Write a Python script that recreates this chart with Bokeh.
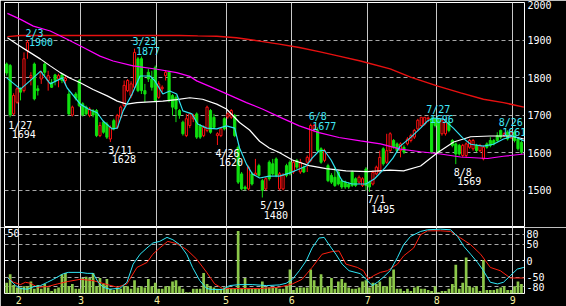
from bokeh.plotting import figure
from bokeh.layouts import column
from bokeh.models import Range1d, FixedTicker, Grid, ColumnDataSource
from bokeh.core.properties import value
from bokeh.embed import file_html
from bokeh.resources import INLINE

# ---------------- data ----------------
month_labels = ["2", "3", "4", "5", "6", "7", "8", "9"]
month_days = [4, 18, 22, 20, 19, 22, 20, 22, 3]   # trading days: late Jan, Feb..Aug, early Sep

opens = [
    1836,1832,1703,1734,1770,1765,1872,1800,1836,1770,1796,1836,1792,1787,1807,1796,1807,1792,1756,1700,1756,1792,
    1730,1721,1699,1712,1712,1645,1681,1676,1636,1685,1667,1694,1725,1765,1752,1774,1850,1850,1765,1814,1796,1827,
    1747,1770,1805,1814,1752,1747,1712,1681,1645,1672,1690,1703,1672,1645,1659,1712,1694,1645,1645,1690,
    1695,1694,1699,1614,1543,1508,1503,1543,1540,1565,1525,1503,1574,1570,1583,1503,1503,1565,1574,
    1548,1579,1548,1561,1574,1579,1663,1659,1610,1579,1565,1539,1534,1548,1525,1521,1516,1548,1530,1521,1512,1556,
    1521,1516,1543,1548,1610,1574,1605,1632,1623,1605,1614,1623,1632,1641,1663,1672,1676,1690,1690,1690,
    1685,1650,1650,1681,1632,1623,1619,1592,1592,1614,1610,1619,1605,1583,1623,1632,1632,1645,1659,1645,1654,1641,
    1654,1636,1627]
highs = [
    1840,1836,1758,1775,1774,1867,1900,1814,1840,1779,1818,1840,1818,1796,1810,1810,1810,1805,1765,1725,1761,1796,
    1734,1725,1721,1716,1716,1681,1685,1681,1672,1690,1703,1725,1792,1796,1790,1877,1855,1856,1783,1823,1818,1832,
    1790,1779,1820,1818,1756,1752,1716,1685,1703,1707,1703,1707,1676,1672,1725,1716,1703,1654,1667,1694,
    1707,1716,1703,1619,1548,1512,1565,1548,1583,1570,1530,1534,1579,1583,1587,1548,1545,1570,1579,
    1579,1583,1583,1565,1592,1677,1676,1667,1614,1610,1570,1545,1561,1552,1530,1525,1521,1552,1534,1539,1534,1561,
    1525,1552,1565,1605,1614,1650,1654,1636,1627,1627,1619,1641,1650,1663,1690,1694,1694,1696,1694,1692,
    1690,1690,1685,1685,1636,1627,1623,1623,1627,1636,1636,1623,1623,1619,1627,1641,1636,1654,1661,1654,1659,1659,
    1659,1641,1632]
lows = [
    1805,1694,1699,1730,1739,1760,1850,1779,1739,1752,1783,1805,1765,1772,1779,1774,1785,1779,1699,1696,1739,1721,
    1696,1699,1694,1694,1641,1641,1650,1636,1628,1659,1663,1690,1721,1761,1745,1770,1761,1756,1734,1788,1765,1734,
    1743,1761,1792,1734,1699,1681,1690,1645,1641,1665,1681,1636,1636,1641,1654,1650,1663,1620,1641,1659,
    1690,1690,1641,1516,1499,1499,1499,1512,1539,1534,1480,1499,1525,1539,1534,1499,1499,1534,1539,
    1543,1556,1543,1545,1548,1574,1654,1601,1570,1574,1521,1516,1508,1512,1503,1503,1503,1508,1508,1516,1508,1499,
    1495,1512,1539,1543,1565,1570,1601,1610,1601,1587,1596,1619,1627,1636,1659,1667,1672,1681,1597,1667,
    1596,1645,1645,1654,1614,1569,1592,1587,1587,1610,1605,1601,1601,1579,1610,1614,1619,1627,1636,1641,1632,1636,
    1627,1605,1596]
closes = [
    1812,1700,1752,1770,1761,1850,1894,1805,1743,1765,1814,1814,1805,1774,1792,1805,1792,1798,1703,1721,1745,1725,
    1700,1703,1716,1700,1645,1672,1654,1641,1667,1663,1699,1721,1779,1792,1783,1867,1765,1765,1756,1796,1774,1739,
    1783,1774,1814,1739,1721,1716,1699,1650,1690,1703,1699,1641,1641,1667,1721,1654,1667,1650,1663,1663,
    1703,1712,1645,1521,1503,1503,1561,1516,1545,1539,1499,1530,1530,1543,1539,1543,1539,1539,1543,
    1574,1561,1574,1548,1587,1672,1672,1605,1574,1605,1525,1521,1512,1516,1508,1508,1508,1512,1512,1534,1530,1512,
    1508,1547,1561,1587,1570,1605,1650,1614,1605,1623,1601,1636,1645,1659,1686,1694,1694,1692,1601,1672,
    1601,1685,1681,1659,1619,1596,1596,1619,1623,1632,1632,1605,1619,1614,1614,1619,1623,1632,1641,1650,1636,1654,
    1632,1610,1601]
volumes = [
    9,16,7,5,5,6,6,10,4,7,4,8,5,2,4,5,16,17,6,8,4,4,
    13,14,13,17,6,13,8,12,4,3,5,4,6,6,4,11,5,6,5,12,6,9,
    4,4,6,6,10,11,6,4,1,1,4,4,4,17,8,6,5,4,4,5,
    5,4,4,52,4,13,4,4,4,4,10,5,5,5,5,4,4,6,20,
    3,5,5,5,5,20,11,6,16,5,6,13,4,10,12,9,5,4,4,5,10,11,
    5,9,8,10,6,6,14,20,4,4,2,4,2,5,6,4,4,3,2,6,
    1,2,2,4,8,24,4,9,30,6,5,6,2,28,3,3,3,4,5,6,3,3,
    6,10,8]

ma5_x = [0,4,7.7,9.8,12.6,16.1,17.5,21.3,23.6,26.2,27.9,30.5,32,33.7,36.3,38.6,41.5,42.9,45.2,47.2,49.2,51,53.6,55.3,
         57.9,60.8,63.6,66,67.4,69.4,71.1,73.2,76,78.9,81.8,84.7,86.7,88.4,90.4,91.9,93.9,95.3,97.1,100,104,106.5,
         109.5,111.8,113.9,116.8,119.8,121.8,123.5,126.4,129.3,132,134.3,138,140.9,143.8,146.7,149.7]
ma5_v = [1799,1769,1799,1817,1783,1799,1772,1729,1716,1706,1684,1663,1665,1711,1756,1804,1804,1791,1756,1764,1756,1711,
         1703,1676,1665,1663,1671,1665,1612,1569,1543,1532,1537,1537,1545,1556,1564,1585,1604,1606,1580,1555,1524,1516,
         1516,1530,1559,1585,1617,1639,1665,1684,1692,1689,1665,1639,1622,1617,1622,1636,1644,1631]
ma25_x = [0.2,3.1,6,9.8,12.6,15.5,18.4,21.3,25,29.1,32,34.8,37.7,41.5,45.2,49.2,53,56.7,60.8,63.6,67.4,70.3,73.2,76,
          78.9,82.7,87.6,92.5,98.2,104.4,111,114.9,119.8,124.8,129.4,134.3,140,145.8,147.8,149.7]
ma25_v = [1906,1888,1871,1849,1831,1813,1798,1786,1768,1751,1737,1729,1733,1735,1737,1741,1746,1742,1729,1716,1680,1660,
          1630,1612,1600,1580,1565,1557,1551,1549,1553,1551,1564,1600,1628,1642,1644,1644,1640,1636]
ma75_x = [0.2,4,7.7,12.6,17.5,22.2,27,30.8,36.6,43.5,49.2,53,55,59.6,64.5,69.4,74,78.9,84.7,90.4,96.2,102.4,108.2,114,
          119.8,125.6,131.4,139.2,143.8,149.7]
ma75_v = [1971,1955,1937,1924,1902,1880,1857,1844,1831,1822,1813,1803,1791,1773,1753,1733,1716,1695,1671,1653,1640,1631,
          1623,1609,1602,1596,1588,1584,1590,1596]
ma200_x = [0.2,4,27,50,55.3,60.8,66.5,73.2,78.9,84.7,90.4,96.2,102.4,111,116.9,124.8,131.4,138,143.8,149.7]
ma200_v = [1909,1912,1912,1912,1911,1910,1906,1897,1889,1880,1869,1857,1844,1823,1801,1777,1759,1742,1733,1721]

rci9_x = [0.2,2.6,4,6,7.7,9.8,11.8,13.5,16.4,17.8,21.3,23.3,25,26.5,27.9,29.9,32.8,34.8,36.6,38.6,40.6,42.3,44.3,46.4,
          48.1,50.1,52.1,53.8,55.9,57.9,59.6,62.5,64.5,67.4,71.1,75.2,78.9,80.9,82.7,84.7,86.7,88.4,90.4,91.9,93.3,95.3,
          97.1,99.1,102.4,104.4,105.8,107.3,109,111,113.1,114.9,116.9,119.8,121.8,125.6,128.5,130.5,132.3,134.3,136.3,
          138,140,142.1,143.8,145.8,147.8,149.7]
rci9_v = [-51,-76,-85,-87,-80,-76,-66,-57,-40,-36,-36,-39,-39,-66,-81,-87,-84,-66,-11,19,38,53,58,70,63,48,19,-21,-61,
          -85,-88,-88,-76,-73,-73,-76,-74,-69,-57,-31,-1,38,68,70,48,19,-11,-31,-40,-61,-76,-66,-51,-31,9,48,73,88,93,95,
          93,73,43,19,-6,-31,-66,-71,-66,-46,-26,-21]
rci26_x = [0.2,2,4,5.4,6.9,8.9,11.8,14.7,17.5,21.3,25,29.1,32,34.8,37.7,40.6,42.3,44.3,46.6,49.2,52.1,55,57.9,60.2,62.5,
           67.4,73.2,78.9,82.7,85.5,88.4,91.3,94.2,96.2,98.2,101.5,103.3,104.7,106.2,108.2,110.2,113.1,114.9,117.8,
           119.8,121.8,125.6,128.5,131.4,134.3,137.2,140,142.9,145.8,149.7]
rci26_v = [-51,-66,-73,-66,-69,-81,-79,-71,-64,-57,-61,-73,-81,-71,-21,-6,19,38,58,51,33,4,-36,-71,-85,-85,-85,-81,-71,
           -57,-21,19,27,29,-11,-21,-31,-57,-46,-36,-31,-11,14,38,78,90,90,88,68,48,19,-21,-31,-53,-53]

hl_dates = ["1/27", "2/3", "3/11", "3/23", "4/26", "5/19", "6/8", "7/1", "7/27", "8/8", "8/26"]
hl_index = [1, 6, 30, 37, 61, 74, 88, 105, 122, 130, 143]
hl_price = [1694, 1900, 1628, 1877, 1620, 1480, 1677, 1495, 1696, 1569, 1661]
hl_kind = ["low", "high", "low", "high", "low", "low", "high", "low", "high", "low", "high"]

price_ticks = [1500, 1600, 1700, 1800, 1900, 2000]
osc_ticks = [80, 50, 0, -50, -80]

assert len(opens) == len(highs) == len(lows) == len(closes) == len(volumes) == sum(month_days)
assert len(ma5_x) == len(ma5_v) and len(ma25_x) == len(ma25_v) and len(ma75_x) == len(ma75_v)
assert len(ma200_x) == len(ma200_v) and len(rci9_x) == len(rci9_v) and len(rci26_x) == len(rci26_v)

# ---------------- derived ----------------
n = len(closes)
idx = list(range(n))
month_pos = []
acc = 0
for d in month_days[:-1]:
    acc += d
    month_pos.append(acc - 0.5)

up = [i for i in idx if closes[i] >= opens[i]]
dn = [i for i in idx if closes[i] < opens[i]]
src_up = ColumnDataSource(dict(x=up, o=[opens[i] for i in up], c=[closes[i] for i in up],
                               h=[highs[i] for i in up], l=[lows[i] for i in up]))
src_dn = ColumnDataSource(dict(x=dn, o=[opens[i] for i in dn], c=[closes[i] for i in dn],
                               h=[highs[i] for i in dn], l=[lows[i] for i in dn]))

FONT = value("DejaVu Sans Mono")
FS = value("10px")
RED = "#ff1010"
GREEN = "#10e010"
x_rng = Range1d(-0.64, 149.89)


def style_axis(ax, color):
    ax.axis_line_color = None
    ax.major_tick_line_color = None
    ax.minor_tick_line_color = None
    ax.major_tick_out = 0
    ax.major_tick_in = 0
    ax.minor_tick_out = 0
    ax.minor_tick_in = 0
    ax.major_label_text_color = color
    ax.major_label_text_font = "DejaVu Sans Mono"
    ax.major_label_text_font_size = "10px"


# ---------------- main panel ----------------
p = figure(width=566, height=227, x_range=x_rng, y_range=Range1d(1400, 2000),
           output_backend="svg", toolbar_location=None,
           min_border_left=4, min_border_right=42, min_border_top=2, min_border_bottom=0,
           background_fill_color="black", border_fill_color="black",
           outline_line_color="white", outline_line_width=1,
           x_axis_location=None, y_axis_location="right")
for g in p.grid:
    g.visible = False
p.add_layout(Grid(dimension=1, ticker=FixedTicker(ticks=price_ticks[:-1]),
                  grid_line_color="#a8a8a8", grid_line_dash="4 3", grid_line_width=1))
p.add_layout(Grid(dimension=0, ticker=FixedTicker(ticks=month_pos),
                  grid_line_color="#c8c8c8", grid_line_width=1))
ya = p.yaxis[0]
ya.ticker = FixedTicker(ticks=price_ticks)
style_axis(ya, "white")
ya.major_label_standoff = 3

# candles
p.segment(x0="x", y0="h", x1="x", y1="l", source=src_up, line_color=RED, line_width=1)
p.segment(x0="x", y0="h", x1="x", y1="l", source=src_dn, line_color=GREEN, line_width=1)
p.vbar(x="x", top="c", bottom="o", width=0.62, source=src_up, fill_color="black", line_color=RED, line_width=1)
p.vbar(x="x", top="o", bottom="c", width=0.62, source=src_dn, fill_color=GREEN, line_color=GREEN, line_width=1)

# moving averages
p.line(ma200_x, ma200_v, line_color="#e81010", line_width=1.5)
p.line(ma75_x, ma75_v, line_color="#ff00ff", line_width=1.2)
p.line(ma25_x, ma25_v, line_color="white", line_width=1.2)
p.line(ma5_x, ma5_v, line_color="#30e0f0", line_width=1.2)

# high / low labels
hi = [k for k in range(len(hl_kind)) if hl_kind[k] == "high"]
lo = [k for k in range(len(hl_kind)) if hl_kind[k] == "low"]
hx = [hl_index[k] for k in hi]
hy = [hl_price[k] for k in hi]
lx = [hl_index[k] for k in lo]
ly = [hl_price[k] for k in lo]
p.text(x=hx, y=hy, text=[hl_dates[k] for k in hi], x_offset=-2, y_offset=-7,
       text_color="#40e8f8", text_font=FONT, text_font_size=FS, text_baseline="alphabetic")
p.text(x=hx, y=hy, text=[str(hl_price[k]) for k in hi], x_offset=1.5, y_offset=2,
       text_color="#40e8f8", text_font=FONT, text_font_size=FS, text_baseline="alphabetic")
p.text(x=lx, y=ly, text=[hl_dates[k] for k in lo], x_offset=-2, y_offset=8,
       text_color="white", text_font=FONT, text_font_size=FS, text_baseline="alphabetic")
p.text(x=lx, y=ly, text=[str(hl_price[k]) for k in lo], x_offset=1.5, y_offset=17,
       text_color="white", text_font=FONT, text_font_size=FS, text_baseline="alphabetic")

# ---------------- lower panel ----------------
q = figure(width=566, height=79, x_range=x_rng, y_range=Range1d(-100, 100),
           output_backend="svg", toolbar_location=None,
           min_border_left=4, min_border_right=42, min_border_top=0, min_border_bottom=13,
           background_fill_color="black", border_fill_color="black",
           outline_line_color="white", outline_line_width=1,
           x_axis_location="below", y_axis_location="right")
q.extra_y_ranges = {"vol": Range1d(0, 55)}
for g in q.grid:
    g.visible = False
q.add_layout(Grid(dimension=1, ticker=FixedTicker(ticks=[80, 50, -50, -80]),
                  grid_line_color="#a8a8a8", grid_line_dash="4 3", grid_line_width=1))
q.add_layout(Grid(dimension=1, ticker=FixedTicker(ticks=[0]),
                  grid_line_color="white", grid_line_dash="4 3", grid_line_width=1))
q.add_layout(Grid(dimension=0, ticker=FixedTicker(ticks=month_pos),
                  grid_line_color="#c8c8c8", grid_line_width=1))

xa = q.xaxis[0]
xa.ticker = FixedTicker(ticks=month_pos)
xa.major_label_overrides = {m: lab for m, lab in zip(month_pos, month_labels)}
style_axis(xa, "#f8f0a0")
xa.major_label_standoff = 2

ya2 = q.yaxis[0]
ya2.ticker = FixedTicker(ticks=osc_ticks)
ya2.major_label_overrides = {t: str(t) for t in osc_ticks}
style_axis(ya2, "white")
ya2.major_label_standoff = 2

q.vbar(x=idx, top=volumes, bottom=0, width=0.78, y_range_name="vol",
       fill_color="#8cc84a", line_color=None)
q.line(rci26_x, rci26_v, line_color="#ff2010", line_width=1)
q.line(rci9_x, rci9_v, line_color="#30e8f8", line_width=1)
q.text(x=[x_rng.start], y=[50], text=["50"], x_offset=3, y_offset=-1, y_range_name="vol",
       text_color="white", text_font=FONT, text_font_size=FS, text_baseline="middle")

layout = column(p, q, spacing=0)
open("out.html", "w").write(file_html(layout, INLINE))
